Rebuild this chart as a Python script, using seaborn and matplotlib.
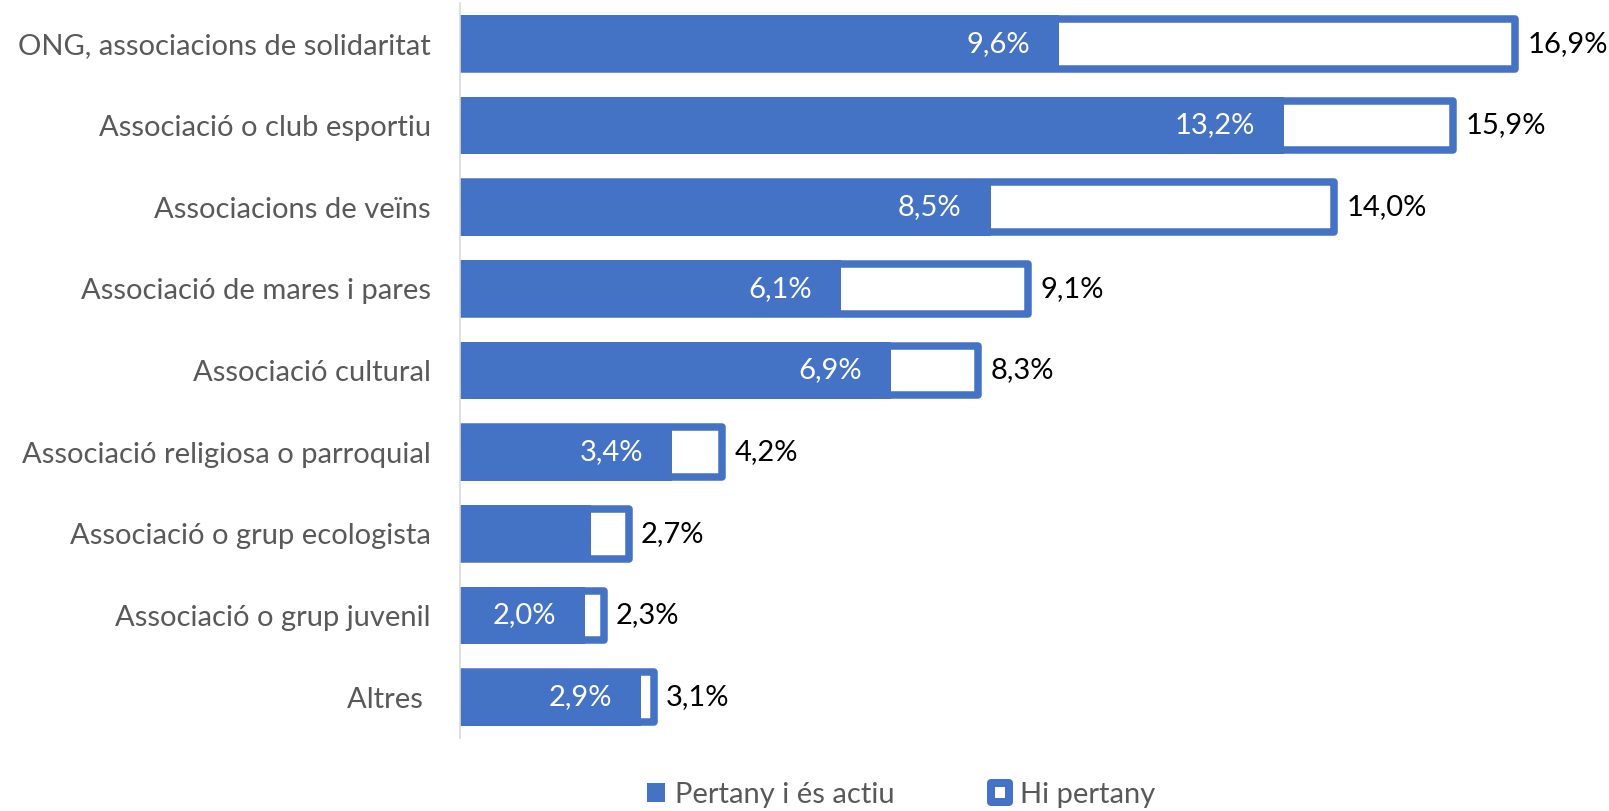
import matplotlib
matplotlib.use("Agg")
import matplotlib.pyplot as plt
import seaborn as sns
import pandas as pd

# Dades llegides del gràfic (%)
categories = [
    "ONG, associacions de solidaritat",
    "Associació o club esportiu",
    "Associacions de veïns",
    "Associació de mares i pares",
    "Associació cultural",
    "Associació religiosa o parroquial",
    "Associació o grup ecologista",
    "Associació o grup juvenil",
    "Altres ",
]
actiu = [9.6, 13.2, 8.5, 6.1, 6.9, 3.4, 2.1, 2.0, 2.9]
pertany = [16.9, 15.9, 14.0, 9.1, 8.3, 4.2, 2.7, 2.3, 3.1]
show_inner = [True, True, True, True, True, True, False, True, True]

blue = "#4472C4"
grey = "#595959"
fs = 21

df = pd.DataFrame({"cat": categories, "actiu": actiu, "pertany": pertany})

sns.set_style("white")
plt.rcParams["font.family"] = ["Lato", "DejaVu Sans"]

fig = plt.figure(figsize=(16.09, 8.11), dpi=100)
ax = fig.add_axes([460 / 1609, 73 / 811, 1130 / 1609, 735 / 811])

# barra total: blanca amb vora blava
sns.barplot(data=df, x="pertany", y="cat", orient="h", color="white",
            edgecolor=blue, linewidth=5.4, width=0.61, saturation=1,
            label="Hi pertany", ax=ax)
for p in ax.patches:
    p.set_joinstyle("round")
# barra actiu: blava plena
sns.barplot(data=df, x="actiu", y="cat", orient="h", color=blue,
            linewidth=0, width=0.70, saturation=1,
            label="Pertany i és actiu", ax=ax)

h, l = ax.get_legend_handles_labels()
if ax.get_legend() is not None:
    ax.get_legend().remove()

ax.set_xlim(0, 18.1)
ax.set_ylim(8.5, -0.5)
ax.set_xlabel("")
ax.set_ylabel("")
ax.set_xticks([])
ax.tick_params(axis="y", length=0, pad=21, labelsize=fs, labelcolor=grey)
for s in ["top", "right", "bottom"]:
    ax.spines[s].set_visible(False)
ax.spines["left"].set_color("#D9D9D9")
ax.spines["left"].set_linewidth(1.2)

for i in range(len(categories)):
    if show_inner[i]:
        ax.annotate(f"{actiu[i]:.1f}%".replace(".", ","), (actiu[i], i),
                    xytext=(-21, 0), textcoords="offset points",
                    ha="right", va="center", color="white", fontsize=fs)
    ax.annotate(f"{pertany[i]:.1f}%".replace(".", ","), (pertany[i], i),
                xytext=(9, 0), textcoords="offset points",
                ha="left", va="center", color="black", fontsize=fs)

order = [l.index("Pertany i és actiu"), l.index("Hi pertany")]
leg = fig.legend([h[k] for k in order], [l[k] for k in order],
                 loc="center", bbox_to_anchor=(901 / 1609, 1 - 795 / 811),
                 ncol=2, frameon=False, fontsize=fs, labelcolor=grey,
                 handlelength=0.62, handleheight=0.62, handletextpad=0.35,
                 columnspacing=3.3)
for hd in leg.legend_handles:
    if hd.get_facecolor()[0] > 0.9:
        hd.set_linewidth(5.8)
        hd.set_joinstyle("round")

fig.savefig("out.png", dpi=100)
